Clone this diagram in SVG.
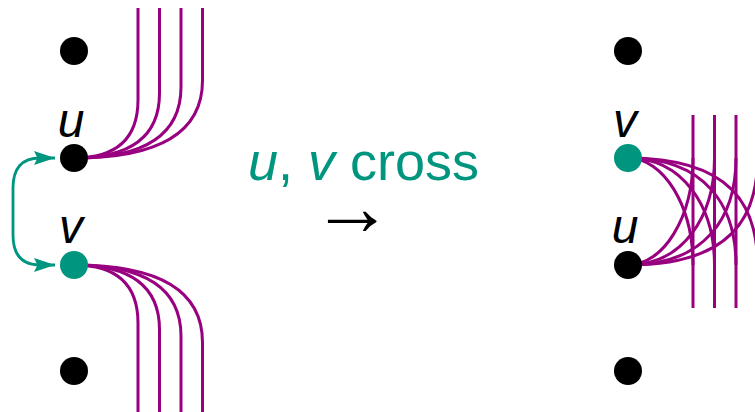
<svg xmlns="http://www.w3.org/2000/svg" width="755" height="412" viewBox="0 0 755 412">
<style>
.e{fill:none;stroke:#990080;stroke-width:3}
.sw{fill:none;stroke:#00957f;stroke-width:2.8}
.lbl{font-family:"Liberation Sans",Arial,sans-serif;font-size:48px;font-style:italic;fill:#000;text-anchor:middle}
.mid{font-family:"Liberation Sans",Arial,sans-serif;font-size:54px;fill:#00957f}
.blk{fill:#000}
.tl{fill:#00957f}
</style>
<defs>
<marker id="ah" markerUnits="userSpaceOnUse" markerWidth="21" markerHeight="15" refX="21" refY="7.5" orient="auto-start-reverse" viewBox="0 0 21 15">
<path d="M0 0.5 L21 7.5 L0 14.5 L3.5 7.5 Z" fill="#00957f"/>
</marker>
</defs>
<rect width="755" height="412" fill="#fff"/>
<g id="connectors">
<g id="left-u-edges">
<path class="e" d="M74 158 C122 158 138 133.6 138 99.8 L138 8"/>
<path class="e" d="M74 158 C138.1 158 159.5 130.8 159.5 93.35 L159.5 8"/>
<path class="e" d="M74 158 C154.25 158 181 128.1 181 86.9 L181 8"/>
<path class="e" d="M74 158 C170.4 158 202.5 125.4 202.5 80.45 L202.5 8"/>
</g>
<g id="left-v-edges">
<path class="e" d="M74 265 C122 265 138 289.4 138 323.2 L138 415"/>
<path class="e" d="M74 265 C138.1 265 159.5 292.2 159.5 329.65 L159.5 415"/>
<path class="e" d="M74 265 C154.25 265 181 294.9 181 336.1 L181 415"/>
<path class="e" d="M74 265 C170.4 265 202.5 297.6 202.5 342.55 L202.5 415"/>
</g>
<g id="right-verticals">
<path class="e" d="M693 115 L693 308"/>
<path class="e" d="M714.5 115 L714.5 308"/>
<path class="e" d="M736 115 L736 308"/>
<path class="e" d="M757.5 115 L757.5 308"/>
</g>
<g id="right-v-edges">
<path class="e" d="M628 158 C663.75 158 693 206 693 265"/>
<path class="e" d="M628 158 C682.5 158 714.5 206 714.5 265"/>
<path class="e" d="M628 158 C705.8 158 736 206 736 265"/>
<path class="e" d="M628 158 C731.6 158 757.5 206 757.5 265"/>
</g>
<g id="right-u-edges">
<path class="e" d="M628 265 C663.75 265 693 217 693 158"/>
<path class="e" d="M628 265 C682.5 265 714.5 217 714.5 158"/>
<path class="e" d="M628 265 C705.8 265 736 217 736 158"/>
<path class="e" d="M628 265 C731.6 265 757.5 217 757.5 158"/>
</g>
<g id="swap-arrow">
<path class="sw" d="M55 158 L40 158 C22 158 13 168 13 188 L13 235 C13 255 22 265 40 265 L55 265" marker-start="url(#ah)" marker-end="url(#ah)"/>
</g>
</g>
<g id="left-top"><circle class="blk" cx="74" cy="51" r="14"/></g>
<g id="left-u"><circle class="blk" cx="74" cy="158" r="14"/><text class="lbl" x="71" y="137">u</text></g>
<g id="left-v"><circle class="tl" cx="74" cy="265" r="14"/><text class="lbl" x="71" y="243">v</text></g>
<g id="left-bottom"><circle class="blk" cx="74" cy="371" r="14"/></g>
<g id="right-top"><circle class="blk" cx="628" cy="51" r="14"/></g>
<g id="right-v"><circle class="tl" cx="628" cy="158" r="14"/><text class="lbl" x="625" y="137">v</text></g>
<g id="right-u"><circle class="blk" cx="628" cy="265" r="14"/><text class="lbl" x="625" y="243">u</text></g>
<g id="right-bottom"><circle class="blk" cx="628" cy="371" r="14"/></g>
<g id="caption">
<text class="mid" x="248" y="180"><tspan font-style="italic">u</tspan>, <tspan font-style="italic">v</tspan> cross</text>
<text x="352" y="235" font-family="Liberation Serif, serif" font-size="82" text-anchor="middle" fill="#000">→</text>
</g>
</svg>
